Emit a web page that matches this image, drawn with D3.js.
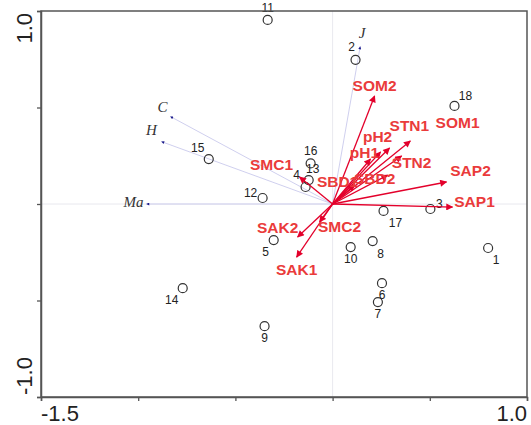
<!DOCTYPE html>
<html>
<head>
<meta charset="utf-8">
<script src="https://cdn.jsdelivr.net/npm/d3@7/dist/d3.min.js"></script>
<style>
  body { margin: 0; background: #fff; }
  svg { display: block; }
</style>
</head>
<body>
<script>
// sample scores
var siteNames = ["1","2","3","4","5","6","7","8","9","10","11","12","13","14","15","16","17","18"];
var siteX = [0.80, 0.118, 0.503, -0.139, -0.303, 0.254, 0.233, 0.206, -0.35, 0.093, -0.334, -0.360, -0.123, -0.771, -0.637, -0.113, 0.262, 0.627];
var siteY = [-0.228, 0.747, -0.026, 0.088, -0.187, -0.41, -0.508, -0.192, -0.633, -0.223, 0.954, 0.031, 0.124, -0.436, 0.233, 0.21, -0.036, 0.508];

// species arrows
var speciesNames = ["C", "H", "Ma", "J"];
var speciesX = [-0.834, -0.88, -0.957, 0.142];
var speciesY = [0.453, 0.323, 0.0, 0.816];

// environmental arrows
var envNames = ["SOM2","STN1","SOM1","pH2","pH1","STN2","SBD2","SBD1","SAP2","SAP1","SMC1","SMC2","SAK2","SAK1"];
var envX = [0.216, 0.40, 0.293, 0.247, 0.195, 0.355, 0.283, 0.113, 0.586, 0.617, -0.17, -0.067, -0.18, -0.185];
var envY = [0.56, 0.327, 0.29, 0.27, 0.233, 0.249, 0.15, 0.099, 0.114, -0.016, 0.14, -0.093, -0.171, -0.275];

var xTickLabels = ["-1.5", "1.0"];
var yTickLabels = ["-1.0", "1.0"];

var svgWidth = 531, svgHeight = 425;
var margin = {top: 11, right: 4, bottom: 28, left: 41};

// label nudges (px) so text sits like the original
var siteLabelOffset = {
  "1": [8, 12], "2": [-4, -13], "3": [9, -5], "4": [-9, -12], "5": [-8, 12], "6": [0, 12],
  "7": [0, 12], "8": [8, 13], "9": [0, 12], "10": [0, 12], "11": [0, -12], "12": [-12, -5],
  "13": [4, -11], "14": [-11, 12], "15": [-11, -11], "16": [0, -12], "17": [12, 12], "18": [11, -10]
};
var envLabelOffset = {
  "SOM2": [0, -10], "STN1": [-1, -15], "SOM1": [68, -26], "pH2": [-3, -15], "pH1": [-6, -7],
  "STN2": [10, 7], "SBD2": [-13, 3], "SBD1": [-17, -3], "SAP2": [24, -11], "SAP1": [22, -6],
  "SMC1": [-28, -12], "SMC2": [20, 5], "SAK2": [-20, -10], "SAK1": [0, 12]
};
var speciesLabelOffset = {"C": [-8, -10], "H": [-10, -12], "Ma": [-13, -2], "J": [2, -14]};

var svg = d3.select("body").append("svg")
  .attr("width", svgWidth)
  .attr("height", svgHeight);

var x = d3.scaleLinear().domain([-1.5, 1.0]).range([margin.left, svgWidth - margin.right]);
var y = d3.scaleLinear().domain([-1.0, 1.0]).range([svgHeight - margin.bottom, margin.top]);

var defs = svg.append("defs");
defs.append("marker")
  .attr("id", "redhead")
  .attr("viewBox", "0 0 10 10")
  .attr("refX", 9).attr("refY", 5)
  .attr("markerWidth", 9).attr("markerHeight", 7)
  .attr("markerUnits", "userSpaceOnUse")
  .attr("orient", "auto")
  .append("path").attr("d", "M0,0 L10,5 L0,10 Z").attr("fill", "#e3002b");
defs.append("marker")
  .attr("id", "bluehead")
  .attr("viewBox", "0 0 10 10")
  .attr("refX", 9).attr("refY", 5)
  .attr("markerWidth", 4).attr("markerHeight", 3)
  .attr("markerUnits", "userSpaceOnUse")
  .attr("orient", "auto")
  .append("path").attr("d", "M0,0 L10,5 L0,10 Z").attr("fill", "#1a1a8a");

// zero lines
svg.append("line")
  .attr("x1", x(0)).attr("x2", x(0))
  .attr("y1", y(1)).attr("y2", y(-1))
  .attr("stroke", "#e2e2ea").attr("stroke-width", 0.8);
svg.append("line")
  .attr("x1", x(-1.5)).attr("x2", x(1))
  .attr("y1", y(0)).attr("y2", y(0))
  .attr("stroke", "#e2e2ea").attr("stroke-width", 0.8);

// species arrows
var species = speciesNames.map(function(n, i) { return {name: n, x: speciesX[i], y: speciesY[i]}; });
svg.selectAll(".sp-line")
  .data(species)
  .enter()
  .append("line")
  .attr("class", "sp-line")
  .attr("x1", x(0)).attr("y1", y(0))
  .attr("x2", d => x(d.x)).attr("y2", d => y(d.y))
  .attr("stroke", "#c9c9ec")
  .attr("stroke-width", 0.9)
  .attr("marker-end", "url(#bluehead)");
svg.selectAll(".sp-label")
  .data(species)
  .enter()
  .append("text")
  .attr("class", "sp-label")
  .attr("x", d => x(d.x) + speciesLabelOffset[d.name][0])
  .attr("y", d => y(d.y) + speciesLabelOffset[d.name][1])
  .attr("text-anchor", "middle")
  .attr("dominant-baseline", "central")
  .attr("font-family", "'Liberation Serif', 'DejaVu Serif', serif")
  .attr("font-style", "italic")
  .attr("font-size", 15)
  .attr("fill", "#333")
  .text(d => d.name);

// sites
var sites = siteNames.map(function(n, i) { return {name: n, x: siteX[i], y: siteY[i]}; });
svg.selectAll(".site")
  .data(sites)
  .enter()
  .append("circle")
  .attr("class", "site")
  .attr("cx", d => x(d.x))
  .attr("cy", d => y(d.y))
  .attr("r", 4.5)
  .attr("fill", "none")
  .attr("stroke", "#333")
  .attr("stroke-width", 1.2);
svg.selectAll(".site-label")
  .data(sites)
  .enter()
  .append("text")
  .attr("class", "site-label")
  .attr("x", d => x(d.x) + siteLabelOffset[d.name][0])
  .attr("y", d => y(d.y) + siteLabelOffset[d.name][1])
  .attr("text-anchor", "middle")
  .attr("dominant-baseline", "central")
  .attr("font-family", "'Liberation Sans', Arial, sans-serif")
  .attr("font-size", 12)
  .attr("fill", "#222")
  .text(d => d.name);

// environmental arrows
var env = envNames.map(function(n, i) { return {name: n, x: envX[i], y: envY[i]}; });
svg.selectAll(".env-line")
  .data(env)
  .enter()
  .append("line")
  .attr("class", "env-line")
  .attr("x1", x(0)).attr("y1", y(0))
  .attr("x2", d => x(d.x)).attr("y2", d => y(d.y))
  .attr("stroke", "#e3002b")
  .attr("stroke-width", 1.3)
  .attr("marker-end", "url(#redhead)");
svg.selectAll(".env-label")
  .data(env)
  .enter()
  .append("text")
  .attr("class", "env-label")
  .attr("x", d => x(d.x) + envLabelOffset[d.name][0])
  .attr("y", d => y(d.y) + envLabelOffset[d.name][1])
  .attr("text-anchor", "middle")
  .attr("dominant-baseline", "central")
  .attr("font-family", "'Liberation Sans', Arial, sans-serif")
  .attr("font-weight", "bold")
  .attr("font-size", 15.5)
  .attr("fill", "#ea3b3b")
  .text(d => d.name);

// frame
svg.append("rect")
  .attr("x", x(-1.5)).attr("y", y(1))
  .attr("width", x(1) - x(-1.5))
  .attr("height", y(-1) - y(1))
  .attr("fill", "none")
  .attr("stroke", "#555")
  .attr("stroke-width", 1.5);

// axes
var bottomAxis = d3.axisBottom(x)
  .tickValues([-1.5, -1.0, -0.5, 0, 0.5, 1.0])
  .tickSize(4)
  .tickFormat("");
var leftAxis = d3.axisLeft(y)
  .tickValues([-1.0, -0.5, 0, 0.5, 1.0])
  .tickSize(4)
  .tickFormat("");

var gx = svg.append("g")
  .attr("transform", `translate(0, ${y(-1)})`)
  .call(bottomAxis);
var gy = svg.append("g")
  .attr("transform", `translate(${x(-1.5)}, 0)`)
  .call(leftAxis);
[gx, gy].forEach(function(g) {
  g.select(".domain").attr("stroke", "#555").attr("stroke-width", 1.5);
  g.selectAll(".tick line").attr("stroke", "#555").attr("stroke-width", 1.3);
});

svg.append("text")
  .attr("x", x(-1.5))
  .attr("y", y(-1) + 24)
  .attr("text-anchor", "start")
  .attr("font-family", "'Liberation Sans', Arial, sans-serif")
  .attr("font-size", 22)
  .attr("fill", "#222")
  .text(xTickLabels[0]);
svg.append("text")
  .attr("x", x(1.0))
  .attr("y", y(-1) + 24)
  .attr("text-anchor", "end")
  .attr("font-family", "'Liberation Sans', Arial, sans-serif")
  .attr("font-size", 22)
  .attr("fill", "#222")
  .text(xTickLabels[1]);

svg.append("text")
  .attr("transform", `translate(32, ${y(-1) - 2}) rotate(-90)`)
  .attr("text-anchor", "start")
  .attr("font-family", "'Liberation Sans', Arial, sans-serif")
  .attr("font-size", 22)
  .attr("fill", "#222")
  .text(yTickLabels[0]);
svg.append("text")
  .attr("transform", `translate(32, ${y(1) + 2}) rotate(-90)`)
  .attr("text-anchor", "end")
  .attr("font-family", "'Liberation Sans', Arial, sans-serif")
  .attr("font-size", 22)
  .attr("fill", "#222")
  .text(yTickLabels[1]);
</script>
</body>
</html>
